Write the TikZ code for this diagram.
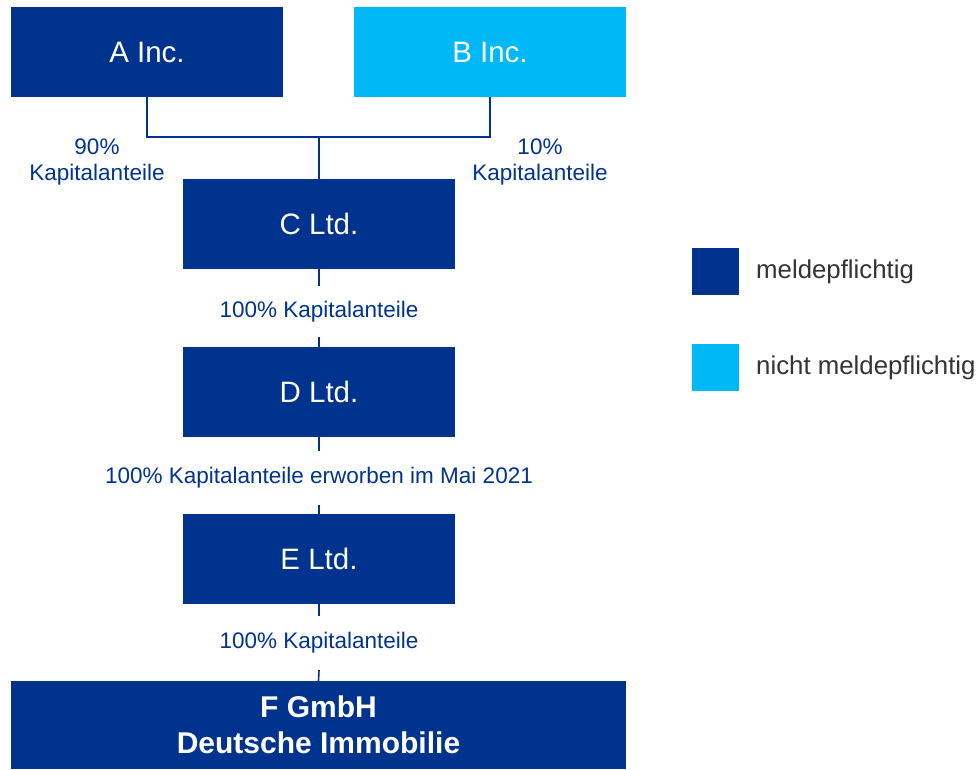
\documentclass[tikz,border=0pt]{standalone}
\usepackage{fontspec}
\setmainfont{Liberation Sans}
\definecolor{kdark}{HTML}{00338D}
\definecolor{kcyan}{HTML}{00B8F5}
\definecolor{ktext}{HTML}{333333}
\begin{document}
\begin{tikzpicture}[x=1pt,y=-1pt,
  box/.style={fill=kdark,inner sep=0pt,minimum width=272pt,minimum height=90pt,text=white,font=\fontsize{29.5}{34}\selectfont},
  cbox/.style={box,fill=kcyan},
  lab/.style={inner sep=0pt,text=kdark,font=\fontsize{22.5}{26}\selectfont,align=center},
  conn/.style={draw=kdark,line width=1.6pt},
  legsq/.style={inner sep=0pt,minimum size=47pt},
  legtxt/.style={inner sep=0pt,anchor=west,text=ktext,font=\fontsize{25.8}{30}\selectfont}]
\useasboundingbox (0,0) rectangle (979,769);
\node[box] (A) at (147,52) {A Inc.};
\node[cbox] (B) at (490,52) {B Inc.};
\node[box] (C) at (319,224) {C Ltd.};
\node[box] (D) at (319,392) {D Ltd.};
\node[box] (E) at (319,559) {E Ltd.};
\node[box,minimum width=615pt,minimum height=88pt,align=center,font=\fontsize{30}{36}\selectfont\bfseries] (F) at (318.5,725) {F GmbH\\Deutsche Immobilie};
\coordinate (j) at (319,137);
\node[lab] (la) at (97,162) {90\%\\Kapitalanteile};
\node[lab] (lb) at (540,162) {10\%\\Kapitalanteile};
\node[lab,minimum height=51pt] (l1) at (319,311.5) {100\% Kapitalanteile};
\node[lab,minimum height=53pt] (l2) at (319,478) {100\% Kapitalanteile erworben im Mai 2021};
\node[lab,minimum height=54pt] (l3) at (319,643) {100\% Kapitalanteile};
\draw[conn] (A.south) |- (j) -| (B.south);
\draw[conn] (j) -- (C.north);
\draw[conn] (C.south) -- (l1.north);
\draw[conn] (l1.south) -- (D.north);
\draw[conn] (D.south) -- (l2.north);
\draw[conn] (l2.south) -- (E.north);
\draw[conn] (E.south) -- (l3.north);
\draw[conn] (l3.south) -- (F.north);
\node[legsq,fill=kdark] (k1) at (715.5,271.5) {};
\node[legsq,fill=kcyan] (k2) at (715.5,367) {};
\node[legtxt] (t1) at (756,272) {meldepflichtig};
\node[legtxt] (t2) at (756,368) {nicht meldepflichtig};
\end{tikzpicture}
\end{document}
